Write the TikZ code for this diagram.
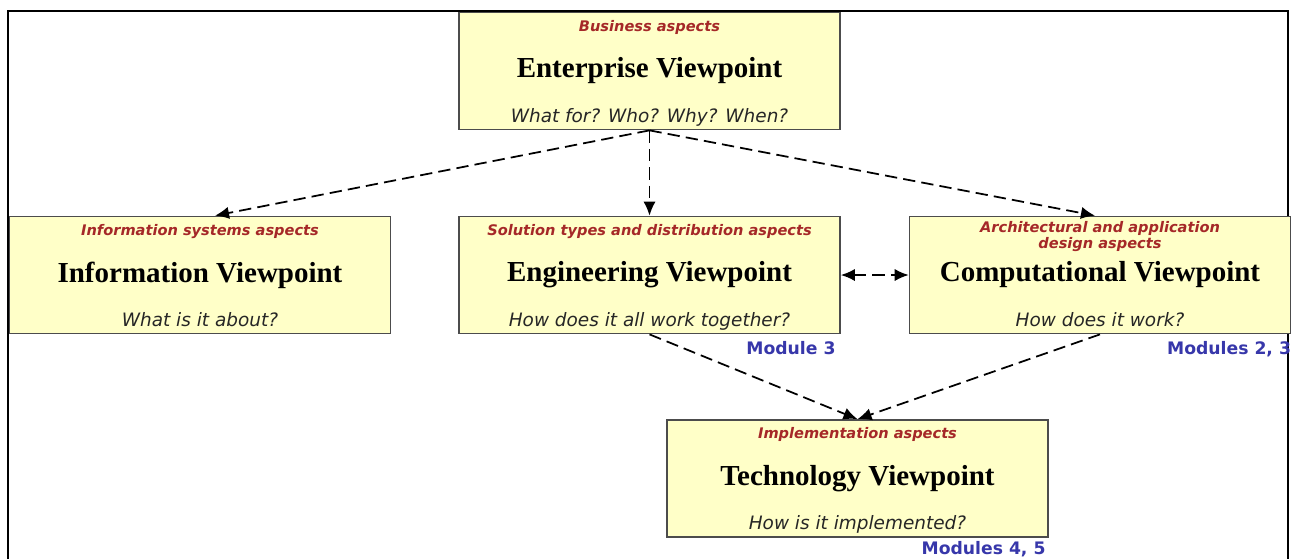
\documentclass[tikz,border=0pt]{standalone}
\usepackage{fontspec}
\setmainfont{Liberation Serif}
\newfontfamily\aspectfont{DejaVu Sans}
\usetikzlibrary{arrows.meta,positioning}
\definecolor{boxfill}{RGB}{255,255,200}
\definecolor{aspectred}{RGB}{165,40,40}
\definecolor{moduleblue}{RGB}{55,55,170}

\begin{document}
\begin{tikzpicture}
[x=0.02cm,y=-0.02cm,
   view/.style={draw=black!70,fill=boxfill,line width=1pt,minimum width=7.62cm,minimum height=2.34cm,inner sep=0pt},
   aspecttext/.style={font=\aspectfont\bfseries\itshape\fontsize{8.3}{9.2}\selectfont,text=aspectred,align=center,inner sep=0pt},
   viewtitle/.style={font=\bfseries\fontsize{16.5}{19}\selectfont},
   question/.style={font=\aspectfont\itshape\fontsize{10.5}{12}\selectfont,text=black!85,inner sep=0pt,text depth=0.25em},
   module/.style={font=\aspectfont\bfseries\fontsize{9.8}{11}\selectfont,text=moduleblue,inner sep=0pt},
   link/.style={dash pattern=on 7pt off 3.5pt,line width=1pt,-{Latex[length=8pt,width=7pt]}}]
\useasboundingbox (0,0) rectangle (1291,559);
\draw[line width=1.4pt] (8,559) -- (8,11) -- (1288,11) -- (1288,559);

\node[view] (ent) at (649.5,71) {};
\node[view] (info) at (200,275) {};
\node[view] (eng) at (649.5,275) {};
\node[view] (comp) at (1100,275) {};
\node[view] (tech) at (857.5,478.5) {};

\node[aspecttext,below=0.16cm of ent.north] (entasp) {Business aspects};
\node[viewtitle] (enttitle) at (ent.center) {Enterprise Viewpoint};
\node[question,above=0.07cm of ent.south] (entq) {What for? Who? Why? When?};

\node[aspecttext,below=0.16cm of info.north] (infoasp) {Information systems aspects};
\node[viewtitle] (infotitle) at (info.center) {Information Viewpoint};
\node[question,above=0.07cm of info.south] (infoq) {What is it about?};

\node[aspecttext,below=0.16cm of eng.north] (engasp) {Solution types and distribution aspects};
\node[viewtitle] (engtitle) at (eng.center) {Engineering Viewpoint};
\node[question,above=0.07cm of eng.south] (engq) {How does it all work together?};

\node[aspecttext,below=0.1cm of comp.north] (compasp) {Architectural and application\\design aspects};
\node[viewtitle] (comptitle) at (comp.center) {Computational Viewpoint};
\node[question,above=0.07cm of comp.south] (compq) {How does it work?};

\node[aspecttext,below=0.16cm of tech.north] (techasp) {Implementation aspects};
\node[viewtitle] (techtitle) at (tech.center) {Technology Viewpoint};
\node[question,above=0.07cm of tech.south] (techq) {How is it implemented?};

\node[module,below left=0.14cm and 0.1cm of eng.south east] (engmod) {Module 3};
\node[module,below left=0.14cm and 0cm of comp.south east] (compmod) {Modules 2, 3};
\node[module,below left=0.07cm and 0.06cm of tech.south east] (techmod) {Modules 4, 5};

\draw[link] (ent.south) -- ([xshift=0.3cm]info.north);
\draw[link] (ent.south) -- (eng.north);
\draw[link] (ent.south) -- ([xshift=-0.1cm]comp.north);
\draw[link,{Latex[length=8pt,width=7pt]}-{Latex[length=8pt,width=7pt]}] (eng.east) -- (comp.west);
\draw[link] (eng.south) -- (tech.north);
\draw[link] (comp.south) -- (tech.north);
\end{tikzpicture}
\end{document}
